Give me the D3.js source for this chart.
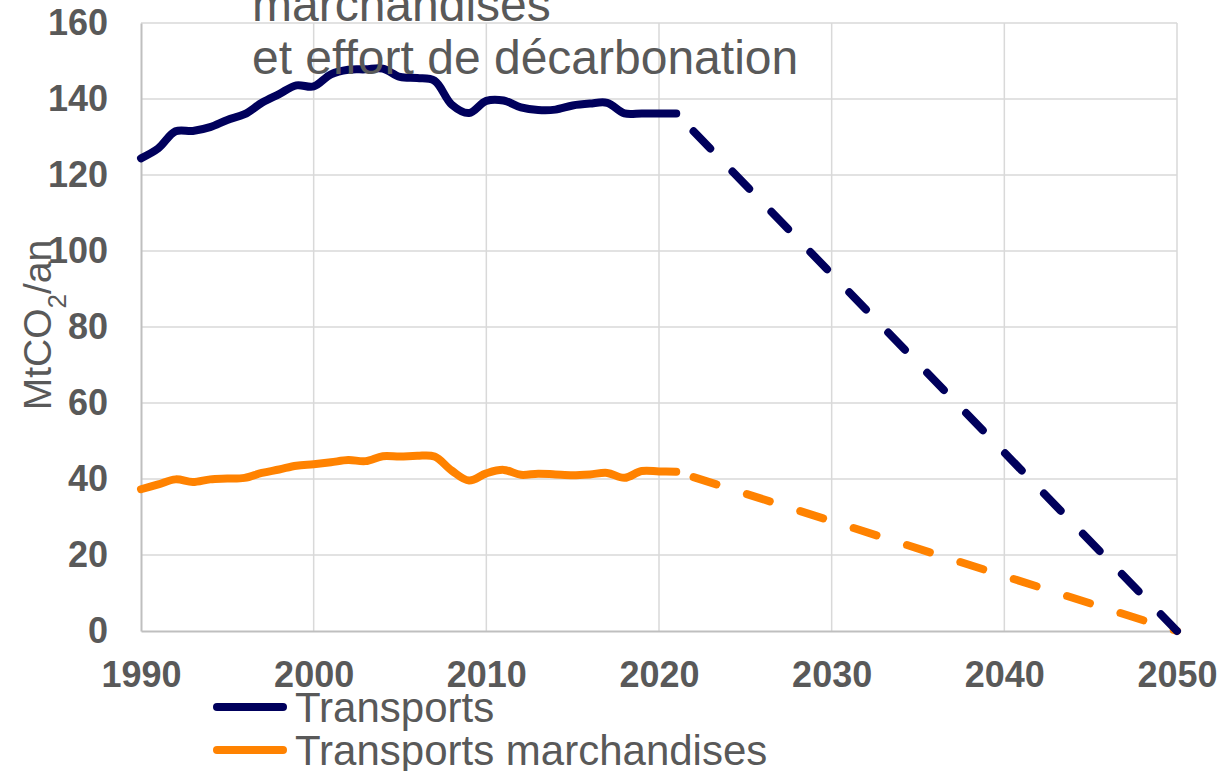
<!DOCTYPE html>
<html>
<head>
<meta charset="utf-8">
<script src="https://cdn.jsdelivr.net/npm/d3@7"></script>
<style>
  body { margin: 0; background: #fff; }
  text { font-family: "Liberation Sans", Arial, sans-serif; fill: #595959; }
</style>
</head>
<body>
<svg id="canvas"></svg>
<script>
// Emissions CO2 transports vs marchandises, trajectoire 2050

let histYears = [1990, 1991, 1992, 1993, 1994, 1995, 1996, 1997, 1998, 1999,
                 2000, 2001, 2002, 2003, 2004, 2005, 2006, 2007, 2008, 2009,
                 2010, 2011, 2012, 2013, 2014, 2015, 2016, 2017, 2018, 2019,
                 2020, 2021]
let transports = [124.4, 127.0, 131.5, 131.6, 132.6, 134.5, 136.0, 139.0, 141.3, 143.6,
                  143.3, 146.5, 147.7, 147.8, 148.0, 145.8, 145.5, 144.8, 138.5, 136.3,
                  139.5, 139.6, 137.8, 137.1, 137.2, 138.3, 138.8, 139.0, 136.2, 136.2,
                  136.2, 136.2]
let freight = [37.3, 38.6, 39.9, 39.2, 39.9, 40.1, 40.3, 41.6, 42.5, 43.5,
               43.9, 44.4, 45.0, 44.7, 46.0, 45.9, 46.1, 45.9, 42.2, 39.6,
               41.5, 42.4, 41.1, 41.4, 41.2, 41.0, 41.2, 41.6, 40.3, 42.1,
               42.0, 41.9]

// trajectoire (pointillés)
let projYears = [2022, 2050]
let transportsProj = [131.5, 0]
let freightProj = [40.5, 0]

let xTicks = [1990, 2000, 2010, 2020, 2030, 2040, 2050]
let yTicks = [0, 20, 40, 60, 80, 100, 120, 140, 160]
let seriesNames = ['Transports', 'Transports marchandises']
let titleLines = ['marchandises', 'et effort de décarbonation']
let yLabel = 'MtCO'

let colors = ['#00005c', '#ff8200']

//Dimensions
let width = 1226
let height = 771
let plotLeft = 141
let plotRight = 1177
let plotTop = 23
let plotBottom = 631

let svg = d3.select('#canvas')
            .attr('width', width)
            .attr('height', height)

let xScale = d3.scaleLinear()
               .domain([1990, 2050])
               .range([plotLeft, plotRight])

let yScale = d3.scaleLinear()
               .domain([0, 160])
               .range([plotBottom, plotTop])

let drawGrid = () => {
  svg.append('g')
     .selectAll('line')
     .data(yTicks.slice(1))
     .enter()
     .append('line')
     .attr('x1', plotLeft)
     .attr('x2', plotRight)
     .attr('y1', d => yScale(d))
     .attr('y2', d => yScale(d))
     .attr('stroke', '#d9d9d9')
     .attr('stroke-width', 1.5)

  svg.append('g')
     .selectAll('line')
     .data(xTicks.slice(1))
     .enter()
     .append('line')
     .attr('x1', d => xScale(d))
     .attr('x2', d => xScale(d))
     .attr('y1', plotTop)
     .attr('y2', plotBottom)
     .attr('stroke', '#d9d9d9')
     .attr('stroke-width', 1.5)
}

let drawAxes = () => {
  let xAxis = d3.axisBottom(xScale)
                .tickValues(xTicks)
                .tickFormat(d3.format('d'))
                .tickSize(0)
                .tickPadding(30)
  let yAxis = d3.axisLeft(yScale)
                .tickValues(yTicks)
                .tickSize(0)
                .tickPadding(33)

  let gx = svg.append('g')
              .attr('id', 'x-axis')
              .attr('transform', `translate(0,${plotBottom})`)
              .call(xAxis)
  let gy = svg.append('g')
              .attr('id', 'y-axis')
              .attr('transform', `translate(${plotLeft},0)`)
              .call(yAxis)

  svg.selectAll('#x-axis text, #y-axis text')
     .attr('fill', '#595959')
     .style('font-size', '36px')
     .style('font-weight', 'bold')
     .style('font-family', '"Liberation Sans", Arial, sans-serif')

  gx.select('.domain').attr('stroke', '#bfbfbf').attr('stroke-width', 2)
  gy.select('.domain').attr('stroke', '#bfbfbf').attr('stroke-width', 2)

  // axis title with subscript
  let t = svg.append('text')
             .attr('transform', `translate(51,325) rotate(-90)`)
             .attr('text-anchor', 'middle')
             .style('font-size', '39px')
  t.append('tspan').text(yLabel)
  t.append('tspan').attr('baseline-shift', 'sub').style('font-size', '26px').text('2')
  t.append('tspan').text('/an')
}

let drawLines = () => {
  let smooth = d3.line()
                 .x(d => xScale(d[0]))
                 .y(d => yScale(d[1]))
                 .curve(d3.curveCatmullRom.alpha(0.5))
  let straight = d3.line()
                   .x(d => xScale(d[0]))
                   .y(d => yScale(d[1]))

  let hist = [transports, freight]
  let proj = [transportsProj, freightProj]

  for (let i = hist.length - 1; i >= 0; i--) {
    svg.append('path')
       .datum(histYears.map((y, j) => [y, hist[i][j]]))
       .attr('d', smooth)
       .attr('fill', 'none')
       .attr('stroke', colors[i])
       .attr('stroke-width', 8)
       .attr('stroke-linecap', 'round')
       .attr('stroke-linejoin', 'round')

    svg.append('path')
       .datum(projYears.map((y, j) => [y, proj[i][j]]))
       .attr('d', straight)
       .attr('fill', 'none')
       .attr('stroke', colors[i])
       .attr('stroke-width', 8)
       .attr('stroke-linecap', 'round')
       .attr('stroke-dasharray', '24 32')
  }
}

let drawLegend = () => {
  let legend = svg.append('g')
                  .attr('id', 'legend')
                  .selectAll('g')
                  .data(seriesNames)
                  .enter()
                  .append('g')
                  .attr('transform', (d, i) => `translate(0,${707 + i * 43})`)

  legend.append('line')
        .attr('x1', 217)
        .attr('x2', 283)
        .attr('stroke', (d, i) => colors[i])
        .attr('stroke-width', 8)
        .attr('stroke-linecap', 'round')

  legend.append('text')
        .attr('x', 295)
        .attr('y', 15)
        .style('font-size', '42px')
        .text(d => d)
}

let drawTitle = () => {
  svg.append('text')
     .attr('id', 'title')
     .selectAll('tspan')
     .data(titleLines)
     .enter()
     .append('tspan')
     .attr('x', 252)
     .attr('y', (d, i) => 21 + i * 53)
     .style('font-size', '48px')
     .text(d => d)
}

drawGrid()
drawAxes()
drawLines()
drawLegend()
drawTitle()
</script>
</body>
</html>
